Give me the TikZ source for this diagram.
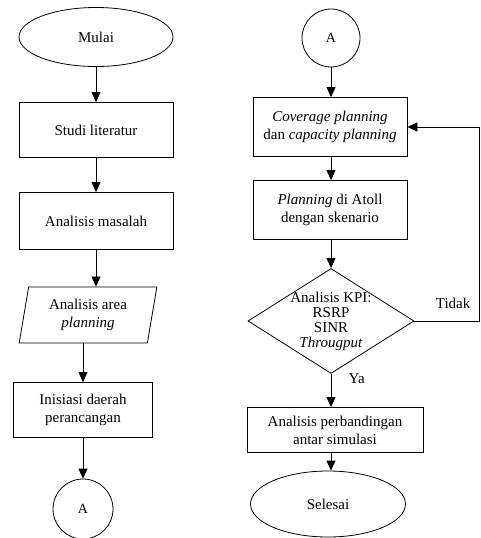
\documentclass[tikz,border=0pt]{standalone}
\usepackage{fontspec}
\setmainfont{Liberation Serif}
\usepackage{tikz}
\usetikzlibrary{shapes, arrows.meta, positioning}

\begin{document}
\begin{tikzpicture}[x=1pt, y=-1pt,
    every node/.style={font=\fontsize{15}{18}\selectfont, align=center},
    box/.style={draw, rectangle, line width=0.8pt, inner sep=2pt},
    term/.style={draw, ellipse, line width=0.8pt},
    conn/.style={draw, circle, line width=0.8pt, inner sep=0pt, font=\fontsize{14}{16}\selectfont},
    io/.style={draw, trapezium, trapezium left angle=80, trapezium right angle=100, trapezium stretches=true, line width=0.8pt},
    decision/.style={draw, diamond, line width=0.8pt, inner sep=0pt},
    arr/.style={-{Triangle[length=10pt, width=9pt]}, line width=0.8pt}]
            \useasboundingbox (0,0) rectangle (480,538);

            % kolom kiri
            \node[term, minimum width=154pt, minimum height=59pt] (mulai) at (96,37) {Mulai};
            \node[box, minimum width=154pt, minimum height=55pt] (studi) at (96,130) {Studi literatur};
            \node[box, minimum width=154pt, minimum height=57pt] (masalah) at (96,221) {Analisis masalah};
            \node[io, minimum width=139pt, minimum height=56pt] (area) at (88,315) {Analisis area\\\textit{planning}};
            \node[box, minimum width=139pt, minimum height=55pt] (inisiasi) at (83,410) {Inisiasi daerah\\perancangan};
            \node[conn, minimum size=60pt] (conA1) at (83,509) {A};

            % kolom kanan
            \node[conn, minimum size=58pt] (conA2) at (331,38) {A};
            \node[box, minimum width=154pt, minimum height=59pt] (coverage) at (330,127) {\textit{Coverage planning}\\dan \textit{capacity planning}};
            \node[box, minimum width=154pt, minimum height=59pt] (atoll) at (330,210) {\textit{Planning} di Atoll\\dengan skenario};
            \node[decision, minimum width=166pt, minimum height=105pt,
                label={[align=center, font=\fontsize{15}{15}\selectfont]center:{Analisis KPI:\\RSRP\\SINR\\\textit{Througput}}}] (kpi) at (331,321) {};
            \node[box, minimum width=176pt, minimum height=45pt] (banding) at (335,430) {Analisis perbandingan\\antar simulasi};
            \node[term, minimum width=155pt, minimum height=66pt] (selesai) at (328,504) {Selesai};
            \coordinate (tepi) at (479,0);

            \draw[arr] (mulai) -- (studi);
            \draw[arr] (studi) -- (masalah);
            \draw[arr] (masalah.south) -- (masalah.south |- area.north);
            \draw[arr] (area.south -| inisiasi.north) -- (inisiasi.north);
            \draw[arr] (inisiasi) -- (conA1);

            \draw[arr] (conA2) -- (conA2 |- coverage.north);
            \draw[arr] (coverage.south -| conA2) -- (conA2 |- atoll.north);
            \draw[arr] (atoll.south -| kpi.north) -- (kpi.north);
            \draw[arr] (kpi.south) -- node[pos=0.15, right=14pt] {Ya} (kpi.south |- banding.north);
            \draw[arr] (banding.south -| kpi.south) -- (kpi.south |- selesai.north);
            \draw[arr] (kpi.east) -- node[pos=0.6, above=9pt] {Tidak} (kpi.east -| tepi) |- (coverage.east);
        \end{tikzpicture}
\end{document}
